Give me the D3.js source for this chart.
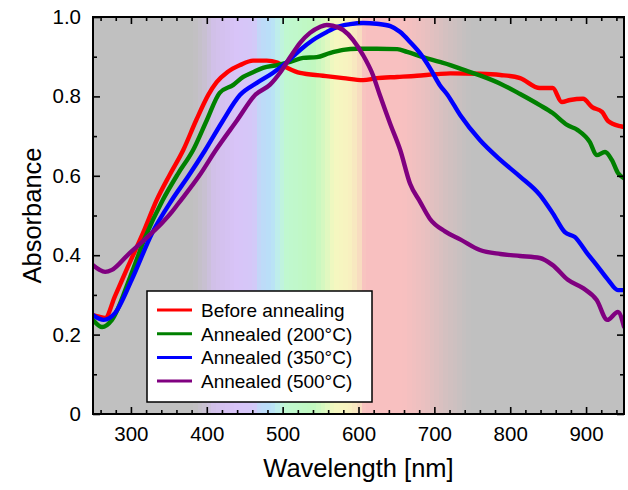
<!DOCTYPE html>
<html><head><meta charset="utf-8">
<script src="https://cdn.jsdelivr.net/npm/d3@7"></script>
<style>
html,body{margin:0;padding:0;background:#fff;}
svg{display:block;font-family:"Liberation Sans",Arial,sans-serif;}
</style></head>
<body>
<svg id="chart" width="628" height="490"></svg>
<script>
// ---- data ----
const seriesNames = ["Before annealing", "Annealed (200\u00B0C)", "Annealed (350\u00B0C)", "Annealed (500\u00B0C)"];
const seriesColors = ["#ff0000", "#008000", "#0000ff", "#800080"];
const beforeData = [[250,0.249],[258,0.245],[266,0.242],[279,0.297],[296,0.371],[316,0.456],[334,0.539],[351,0.602],[369,0.665],[386,0.74],[402,0.804],[413,0.836],[427,0.861],[444,0.879],[461,0.89],[479,0.89],[493,0.885],[506,0.872],[523,0.859],[553,0.852],[580,0.846],[606,0.841],[624,0.846],[651,0.849],[677,0.852],[703,0.856],[721,0.858],[760,0.857],[787,0.854],[813,0.846],[839,0.821],[856,0.821],[868,0.786],[879,0.791],[896,0.794],[908,0.773],[921,0.761],[929,0.738],[945,0.725],[950,0.723]];
const anneal200Data = [[250,0.237],[262,0.219],[275,0.237],[299,0.345],[319,0.446],[342,0.539],[362,0.605],[382,0.665],[400,0.74],[417,0.809],[435,0.829],[448,0.849],[461,0.861],[474,0.872],[493,0.879],[510,0.887],[527,0.897],[545,0.899],[562,0.909],[580,0.917],[598,0.92],[624,0.92],[651,0.919],[664,0.912],[685,0.899],[707,0.887],[721,0.879],[740,0.866],[760,0.853],[787,0.832],[813,0.806],[839,0.778],[856,0.758],[875,0.728],[889,0.715],[905,0.685],[914,0.652],[925,0.66],[934,0.64],[942,0.607],[950,0.594]];
const anneal350Data = [[250,0.249],[264,0.237],[279,0.254],[301,0.338],[328,0.456],[354,0.539],[376,0.6],[398,0.665],[420,0.735],[444,0.804],[466,0.834],[487,0.859],[506,0.887],[523,0.917],[540,0.942],[558,0.962],[572,0.975],[589,0.982],[606,0.985],[624,0.983],[642,0.977],[655,0.962],[668,0.937],[681,0.909],[694,0.872],[707,0.829],[717,0.805],[734,0.753],[760,0.69],[787,0.64],[813,0.598],[839,0.552],[856,0.506],[872,0.458],[885,0.446],[901,0.406],[916,0.37],[929,0.338],[942,0.312],[950,0.312]];
const anneal500Data = [[250,0.375],[258,0.364],[266,0.358],[275,0.363],[296,0.401],[322,0.446],[341,0.481],[354,0.509],[362,0.529],[390,0.6],[412,0.665],[440,0.74],[464,0.804],[483,0.829],[497,0.861],[510,0.899],[523,0.935],[536,0.96],[549,0.975],[558,0.98],[566,0.978],[580,0.967],[593,0.942],[606,0.904],[619,0.854],[628,0.804],[642,0.73],[655,0.665],[668,0.58],[681,0.535],[694,0.492],[714,0.46],[734,0.44],[760,0.413],[787,0.403],[813,0.398],[839,0.393],[856,0.375],[876,0.338],[896,0.317],[914,0.287],[928,0.237],[942,0.257],[950,0.22]];
const allSeries = [beforeData, anneal200Data, anneal350Data, anneal500Data];
const xTicks = [300, 400, 500, 600, 700, 800, 900];
const yTicks = [0, 0.2, 0.4, 0.6, 0.8, 1.0];
const xDomain = [250, 950];
const yDomain = [0, 1];
const xLabel = "Wavelength [nm]";
const yLabel = "Absorbance";
// visible-spectrum background stops (nm, colour)
const spectrumNm = [382, 398, 410, 440, 462, 470, 485, 495, 505, 540, 555, 568, 590, 600, 608, 660, 690, 715, 748];
const spectrumCol = ["#c0c0c0", "#c8c0d2", "#d2c0ea", "#d8c4f8", "#d4c8f8", "#c0d8f8", "#b8e0f8", "#c0f0e8", "#c0f8d0", "#c0f8c0", "#d8f8c0", "#f4f8c0", "#f8f0c0", "#f8e0c0", "#f8c0c0", "#f8c0c0", "#e8c0c0", "#d4c0c0", "#c0c0c0"];

// ---- layout ----
const W = 628, H = 490;
const m = {left: 93, right: 4, top: 17, bottom: 76};
const svg = d3.select("#chart");
const x = d3.scaleLinear().domain(xDomain).range([m.left, W - m.right]);
const y = d3.scaleLinear().domain(yDomain).range([H - m.bottom, m.top]);
const pw = W - m.right - m.left, ph = H - m.bottom - m.top;

// background
svg.append("rect").attr("x", m.left).attr("y", m.top).attr("width", pw).attr("height", ph).attr("fill", "#c0c0c0");
const specColor = d3.scaleLinear().domain(spectrumNm).range(spectrumCol).clamp(true);
const stripW = 6;
const strips = d3.range(spectrumNm[0], spectrumNm[spectrumNm.length - 1], stripW);
svg.append("g").selectAll("rect").data(strips).join("rect")
  .attr("x", d => x(d)).attr("y", m.top)
  .attr("width", d => x(d + stripW) - x(d) + 0.5).attr("height", ph)
  .attr("fill", d => specColor(d + stripW / 2)).attr("shape-rendering", "crispEdges");

// lines
svg.append("clipPath").attr("id", "clip").append("rect")
  .attr("x", m.left).attr("y", m.top).attr("width", pw).attr("height", ph);
const line = d3.line().x(d => x(d[0])).y(d => y(d[1])).curve(d3.curveMonotoneX);
const lg = svg.append("g").attr("clip-path", "url(#clip)");
allSeries.forEach((s, i) => {
  lg.append("path").datum(s).attr("d", line).attr("fill", "none")
    .attr("stroke", seriesColors[i]).attr("stroke-width", 4.4)
    .attr("stroke-linejoin", "round").attr("stroke-linecap", "round");
});

// axes (ticks inside)
const xMinor = d3.range(260, 950, 20).filter(v => v % 100 !== 0);
const yMinor = [0.1, 0.3, 0.5, 0.7, 0.9];
const fmtY = d => d === 0 ? "0" : d3.format(".1f")(d);
function addAxis(gen, transform, major, minor, labels) {
  const g1 = svg.append("g").attr("transform", transform)
    .call(gen.tickValues(major).tickSizeInner(-7).tickSizeOuter(0).tickPadding(12));
  const g2 = svg.append("g").attr("transform", transform)
    .call(gen.tickValues(minor).tickSizeInner(-4).tickSizeOuter(0).tickFormat(""));
  [g1, g2].forEach(g => {
    g.select(".domain").remove();
    g.selectAll(".tick line").attr("stroke", "#000").attr("stroke-width", 1.6);
  });
  if (!labels) g1.selectAll("text").remove();
  return g1;
}
const gxB = addAxis(d3.axisBottom(x), `translate(0,${H - m.bottom})`, xTicks, xMinor, true);
gxB.selectAll("text").attr("font-size", 20.5).attr("fill", "#000").attr("font-family", "Liberation Sans, Arial, sans-serif");
addAxis(d3.axisTop(x), `translate(0,${m.top})`, xTicks, xMinor, false);
const gyL = addAxis(d3.axisLeft(y).tickFormat(fmtY), `translate(${m.left},0)`, yTicks, yMinor, true);
gyL.selectAll("text").attr("font-size", 20.5).attr("fill", "#000").attr("font-family", "Liberation Sans, Arial, sans-serif");
addAxis(d3.axisRight(y), `translate(${W - m.right},0)`, yTicks, yMinor, false);

// frame
svg.append("rect").attr("x", m.left).attr("y", m.top).attr("width", pw).attr("height", ph)
  .attr("fill", "none").attr("stroke", "#000").attr("stroke-width", 2);

// axis titles
svg.append("text").attr("x", (m.left + W - m.right) / 2).attr("y", 477)
  .attr("text-anchor", "middle").attr("font-size", 25.5).text(xLabel);
svg.append("text").attr("transform", `translate(41,${(m.top + H - m.bottom) / 2}) rotate(-90)`)
  .attr("text-anchor", "middle").attr("font-size", 25.5).text(yLabel);

// legend
const lgX = 147, lgY = 291, lgW = 225, lgH = 111;
const leg = svg.append("g");
leg.append("rect").attr("x", lgX).attr("y", lgY).attr("width", lgW).attr("height", lgH)
  .attr("fill", "#fff").attr("stroke", "#000").attr("stroke-width", 1.5);
seriesNames.forEach((n, i) => {
  const cy = lgY + 19 + i * 23.7;
  leg.append("line").attr("x1", lgX + 10).attr("x2", lgX + 45).attr("y1", cy).attr("y2", cy)
    .attr("stroke", seriesColors[i]).attr("stroke-width", 3);
  leg.append("text").attr("x", lgX + 54).attr("y", cy + 7).attr("font-size", 19).text(n);
});
</script>
</body></html>
